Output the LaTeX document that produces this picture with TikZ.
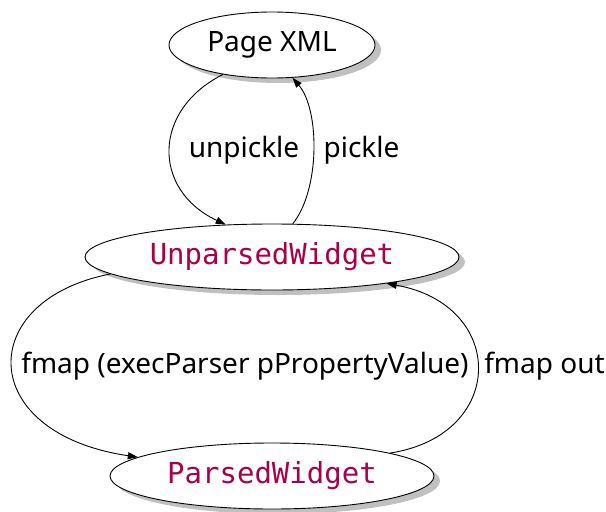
\documentclass[tikz,border=0pt]{standalone}
\usepackage{fontspec}
\setmainfont{Noto Sans}
\setmonofont{DejaVu Sans Mono}
\usetikzlibrary{shapes.geometric,shadows,arrows.meta}
\definecolor{typecol}{RGB}{170,0,75}
\definecolor{shadowcol}{RGB}{192,192,192}
\tikzset{
  state/.style={ellipse, draw=black, line width=0.9pt, fill=white, inner sep=0pt,
    minimum height=66pt, font=\fontsize{28}{32}\selectfont,
    drop shadow={shadow xshift=6pt, shadow yshift=-5pt, fill=shadowcol, opacity=1}},
  typetext/.style={font=\fontsize{29}{33}\selectfont\ttfamily, text=typecol},
  conn/.style={line width=0.9pt, -{Triangle[length=10pt,width=7pt]}},
  lbl/.style={font=\fontsize{28}{32}\selectfont, inner sep=0pt}
}
\begin{document}
\begin{tikzpicture}[x=1pt,y=-1pt]
\useasboundingbox (0,0) rectangle (606,512);
\node[state, minimum width=206pt] (pxml) at (272,45) {Page XML};
\node[state, minimum width=374pt, typetext] (uw) at (272,257) {UnparsedWidget};
\node[state, minimum width=324pt, typetext] (pw) at (272,476) {ParsedWidget};

\draw[conn] (pxml.211.5) .. controls (152,110) and (152,190) .. (uw.145.8);
\draw[conn] (uw.58.8) .. controls (320,190) and (320,110) .. (pxml.-58.8);
\draw[conn] (uw.186.8) .. controls (-25,300) and (-25,433) .. (pw.172.3);
\draw[conn] (pw.11.2) .. controls (507,435) and (507,305) .. (uw.-13.6);

\node[lbl] (l1) at (244,150) {unpickle};
\node[lbl] (l2) at (361.5,150) {pickle};
\node[lbl] (l3) at (245,366) {fmap (execParser pPropertyValue)};
\node[lbl] (l4) at (544.5,366) {fmap out};
\end{tikzpicture}
\end{document}
